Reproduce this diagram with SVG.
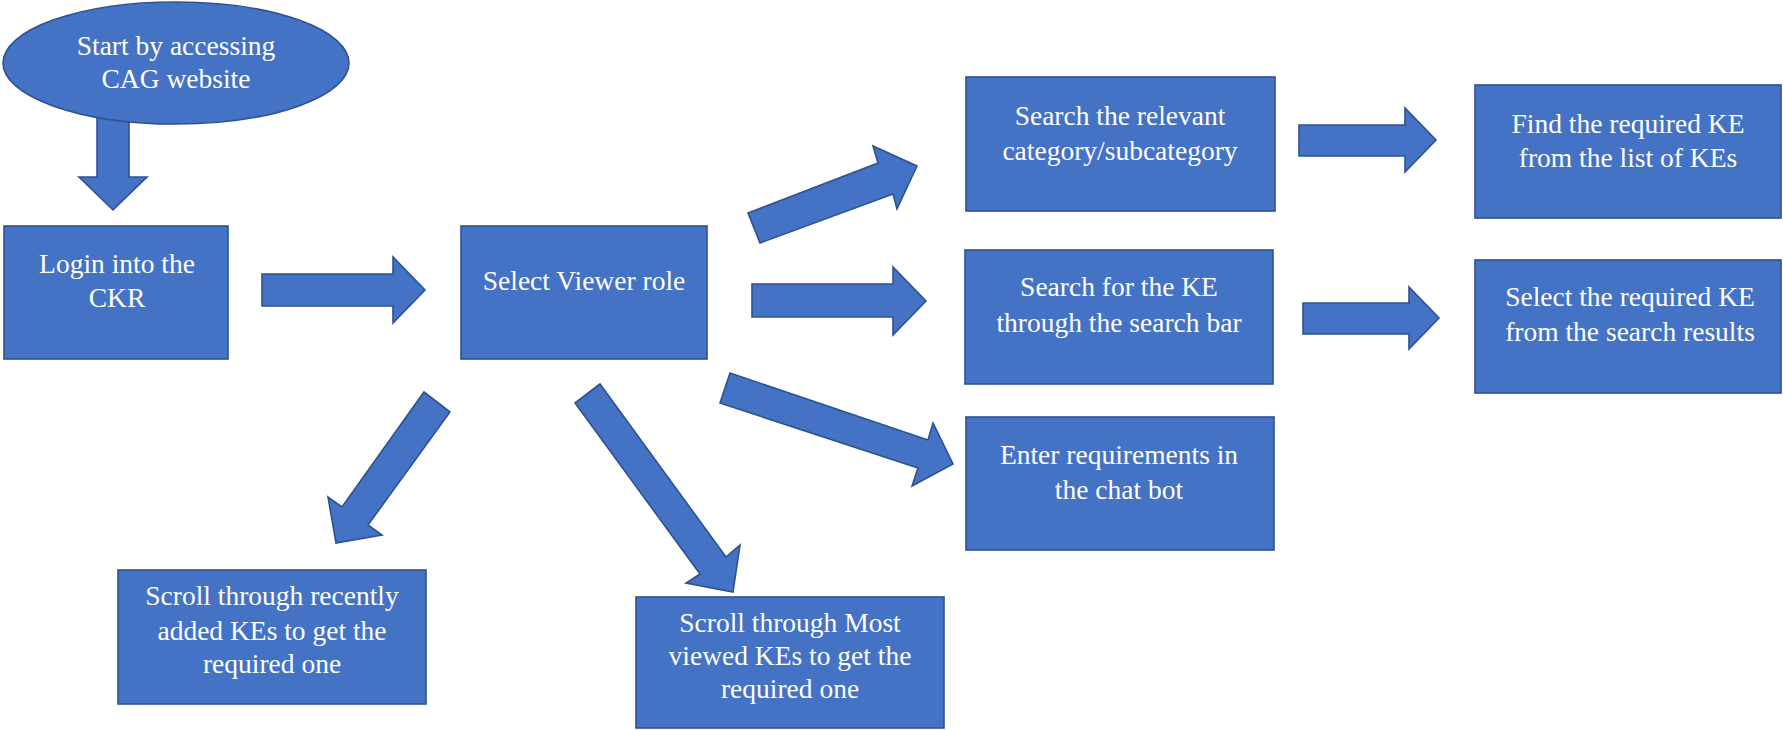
<svg xmlns="http://www.w3.org/2000/svg" width="1783" height="730" viewBox="0 0 1783 730">
<style>
.shape{fill:#4472C4;stroke:#2F528F;stroke-width:1.6;}
.lbl{fill:#FFFFFF;font-size:27.5px;text-anchor:middle;}
</style>
<rect width="1783" height="730" fill="#FFFFFF"/>
<g id="connectors">
<polygon class="shape" points="97,116 129,116 129,177 147,177 113,210 79,177 97,177"/>
<polygon class="shape" points="262,274 393,274 393,257 425,290 393,323 393,306 262,306"/>
<polygon class="shape" points="748,213 878,163 873,146 917,166 897,209 893,194 760,243"/>
<polygon class="shape" points="752,284 893,284 893,267 926,301 893,335 893,317 752,317"/>
<polygon class="shape" points="730,373 928,440 933,423 953,464 912,486 918,468 720,403"/>
<polygon class="shape" points="424,392 450,412 368,525 382,535 336,543 328,497 342,507"/>
<polygon class="shape" points="600,384 726,557 740,545 733,592 686,583 700,574 575,403"/>
<polygon class="shape" points="1299,125 1405,125 1405,108 1436,140 1405,172 1405,156 1299,156"/>
<polygon class="shape" points="1303,303 1409,303 1409,287 1439,318 1409,349 1409,334 1303,334"/>
</g>
<g font-family="'Liberation Serif', 'Times New Roman', 'DejaVu Serif', serif">
<g id="start">
<ellipse class="shape" cx="176" cy="63" rx="173" ry="61"/>
<text class="lbl" x="176" y="55">Start by accessing</text>
<text class="lbl" x="176" y="88">CAG website</text>
</g>
<g id="login">
<rect class="shape" x="4" y="226" width="224" height="133"/>
<text class="lbl" x="117" y="273">Login into the</text>
<text class="lbl" x="117" y="307">CKR</text>
</g>
<g id="viewer">
<rect class="shape" x="461" y="226" width="246" height="133"/>
<text class="lbl" x="584" y="290">Select Viewer role</text>
</g>
<g id="category">
<rect class="shape" x="966" y="77" width="309" height="134"/>
<text class="lbl" x="1120" y="125">Search the relevant</text>
<text class="lbl" x="1120" y="160">category/subcategory</text>
</g>
<g id="searchbar">
<rect class="shape" x="965" y="250" width="308" height="134"/>
<text class="lbl" x="1119" y="296">Search for the KE</text>
<text class="lbl" x="1119" y="332">through the search bar</text>
</g>
<g id="chatbot">
<rect class="shape" x="966" y="417" width="308" height="133"/>
<text class="lbl" x="1119" y="464">Enter requirements in</text>
<text class="lbl" x="1119" y="499">the chat bot</text>
</g>
<g id="findlist">
<rect class="shape" x="1475" y="85" width="306" height="133"/>
<text class="lbl" x="1628" y="133">Find the required KE</text>
<text class="lbl" x="1628" y="167">from the list of KEs</text>
</g>
<g id="selectresult">
<rect class="shape" x="1475" y="260" width="306" height="133"/>
<text class="lbl" x="1630" y="306">Select the required KE</text>
<text class="lbl" x="1630" y="341">from the search results</text>
</g>
<g id="recent">
<rect class="shape" x="118" y="570" width="308" height="134"/>
<text class="lbl" x="272" y="605">Scroll through recently</text>
<text class="lbl" x="272" y="640">added KEs to get the</text>
<text class="lbl" x="272" y="673">required one</text>
</g>
<g id="mostviewed">
<rect class="shape" x="636" y="597" width="308" height="131"/>
<text class="lbl" x="790" y="632">Scroll through Most</text>
<text class="lbl" x="790" y="665">viewed KEs to get the</text>
<text class="lbl" x="790" y="698">required one</text>
</g>
</g>
</svg>
